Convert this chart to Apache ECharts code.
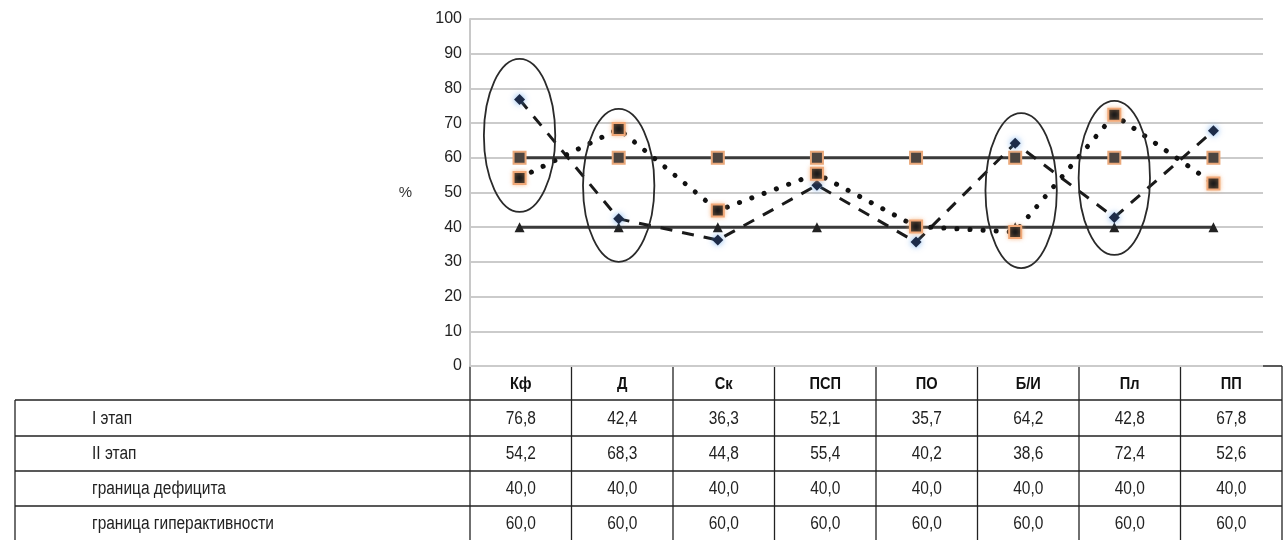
<!DOCTYPE html>
<html><head><meta charset="utf-8">
<script src="https://cdn.jsdelivr.net/npm/echarts@6/dist/echarts.min.js"></script>
<style>html,body{margin:0;padding:0;background:#fff}#c{width:1284px;height:540px}</style>
</head><body><div id="c"></div>
<script>
// ---- data ----
const categories = ['Кф', 'Д', 'Ск', 'ПСП', 'ПО', 'Б/И', 'Пл', 'ПП'];
const stage1 = [76.8, 42.4, 36.3, 52.1, 35.7, 64.2, 42.8, 67.8];
const stage2 = [54.2, 68.3, 44.8, 55.4, 40.2, 38.6, 72.4, 52.6];
const deficitLimit = [40.0, 40.0, 40.0, 40.0, 40.0, 40.0, 40.0, 40.0];
const hyperLimit = [60.0, 60.0, 60.0, 60.0, 60.0, 60.0, 60.0, 60.0];
const seriesNames = ['I этап', 'II этап', 'граница дефицита', 'граница гиперактивности'];
const yAxisName = '%';
// highlighted groups: [category index, lower value, upper value, shift in category units]
const ellipses = [[0, 44.4, 88.5, 0], [1, 30.0, 74.1, 0], [5, 28.2, 72.9, 0.06], [6, 32.0, 76.4, 0]];

const FONT = "'Liberation Sans',Arial,sans-serif";
const chart = echarts.init(document.getElementById('c'), null, {renderer: 'canvas'});

function fmt(v) { return v.toFixed(1).replace('.', ','); }

// ---- table layout (layout constants) ----
const T = {left: 15, colStart: 470, colEnd: 1282, headTop: 366, rowTops: [400, 436, 471, 506], bottom: 540, labelX: 92};
const tableRows = [stage1, stage2, deficitLimit, hyperLimit];
const graphics = [];
const lineStyle = {stroke: '#222', lineWidth: 1.3};
const colW = (T.colEnd - T.colStart) / categories.length;
const SX = 0.86;
graphics.push({type: 'line', shape: {x1: T.colStart, y1: T.headTop, x2: T.colEnd, y2: T.headTop}, style: lineStyle});
T.rowTops.forEach(y => graphics.push({type: 'line', shape: {x1: T.left, y1: y, x2: T.colEnd, y2: y}, style: lineStyle}));
graphics.push({type: 'line', shape: {x1: T.left, y1: T.rowTops[0], x2: T.left, y2: T.bottom}, style: lineStyle});
for (let i = 0; i <= categories.length; i++) {
  const x = T.colStart + i * colW;
  graphics.push({type: 'line', shape: {x1: x, y1: T.headTop, x2: x, y2: T.bottom}, style: lineStyle});
}
categories.forEach((c, i) => {
  graphics.push({type: 'text', x: T.colStart + (i + 0.5) * colW, y: (T.headTop + T.rowTops[0]) / 2 + 1, scaleX: SX,
    style: {text: c, font: 'bold 17px ' + FONT, fill: '#111', align: 'center', verticalAlign: 'middle'}});
});
tableRows.forEach((row, r) => {
  const top = T.rowTops[r];
  const bot = r + 1 < T.rowTops.length ? T.rowTops[r + 1] : T.bottom;
  const cy = (top + bot) / 2 + 1;
  graphics.push({type: 'text', x: T.labelX, y: cy, scaleX: SX,
    style: {text: seriesNames[r], font: '18px ' + FONT, fill: '#222', align: 'left', verticalAlign: 'middle'}});
  row.forEach((v, i) => {
    graphics.push({type: 'text', x: T.colStart + (i + 0.5) * colW, y: cy, scaleX: SX,
      style: {text: fmt(v), font: '18px ' + FONT, fill: '#222', align: 'center', verticalAlign: 'middle'}});
  });
});

const option = {
  backgroundColor: '#fff',
  animation: false,
  grid: {left: 470, right: 21, top: 19, bottom: 174, containLabel: false},
  xAxis: {
    type: 'category', data: categories, boundaryGap: true,
    axisLine: {show: false}, axisTick: {show: false}, axisLabel: {show: false}, splitLine: {show: false}
  },
  yAxis: {
    type: 'value', min: 0, max: 100, interval: 10,
    name: yAxisName, nameLocation: 'middle', nameRotate: 0, nameGap: 58,
    nameTextStyle: {fontFamily: FONT, fontSize: 15, color: '#333'},
    axisLine: {show: true, lineStyle: {color: '#c8c8c8', width: 2}},
    axisTick: {show: false},
    axisLabel: {fontFamily: FONT, fontSize: 16, color: '#222', margin: 8},
    splitLine: {show: true, lineStyle: {color: '#cbcbcb', width: 2}}
  },
  graphic: graphics,
  series: [
    {
      name: seriesNames[0], type: 'line', data: stage1, z: 4,
      symbol: 'diamond', symbolSize: 11,
      lineStyle: {color: '#1a1a1a', width: 3, type: [12, 10]},
      itemStyle: {color: '#1d2b48', shadowColor: 'rgba(80,150,230,0.8)', shadowBlur: 6}
    },
    {
      name: seriesNames[1], type: 'line', data: stage2, z: 4,
      symbol: 'rect', symbolSize: 12,
      lineStyle: {color: '#111', width: 5, type: [0.1, 13], cap: 'round'},
      itemStyle: {color: '#1a1a1a', borderColor: '#f0a878', borderWidth: 2, shadowColor: 'rgba(245,170,110,0.6)', shadowBlur: 4}
    },
    {
      name: seriesNames[2], type: 'line', data: deficitLimit, z: 3,
      symbol: 'triangle', symbolSize: 10,
      lineStyle: {color: '#3a3a3a', width: 3},
      itemStyle: {color: '#222'}
    },
    {
      name: seriesNames[3], type: 'line', data: hyperLimit, z: 3,
      symbol: 'rect', symbolSize: 12,
      lineStyle: {color: '#3a3a3a', width: 3},
      itemStyle: {color: '#4d4540', borderColor: '#eaa87a', borderWidth: 2}
    },
    {
      type: 'custom', silent: true, z: 5,
      data: ellipses,
      encode: {x: 0, y: [1, 2]},
      renderItem: function (params, api) {
        const c = api.value(0);
        const lo = api.coord([c, api.value(1)]);
        const hi = api.coord([c, api.value(2)]);
        const bw = api.size([1, 0])[0];
        const rx = bw * 0.36;
        const cx = lo[0] + api.value(3) * bw;
        return {
          type: 'path',
          shape: {pathData: 'M0,50A50,50 0 1,1 100,50A50,50 0 1,1 0,50Z', layout: 'cover', x: cx - rx, y: hi[1], width: 2 * rx, height: lo[1] - hi[1]},
          style: {fill: 'none', stroke: '#2a2a2a', lineWidth: 1.8}
        };
      }
    }
  ]
};
chart.setOption(option);
</script>
</body></html>
